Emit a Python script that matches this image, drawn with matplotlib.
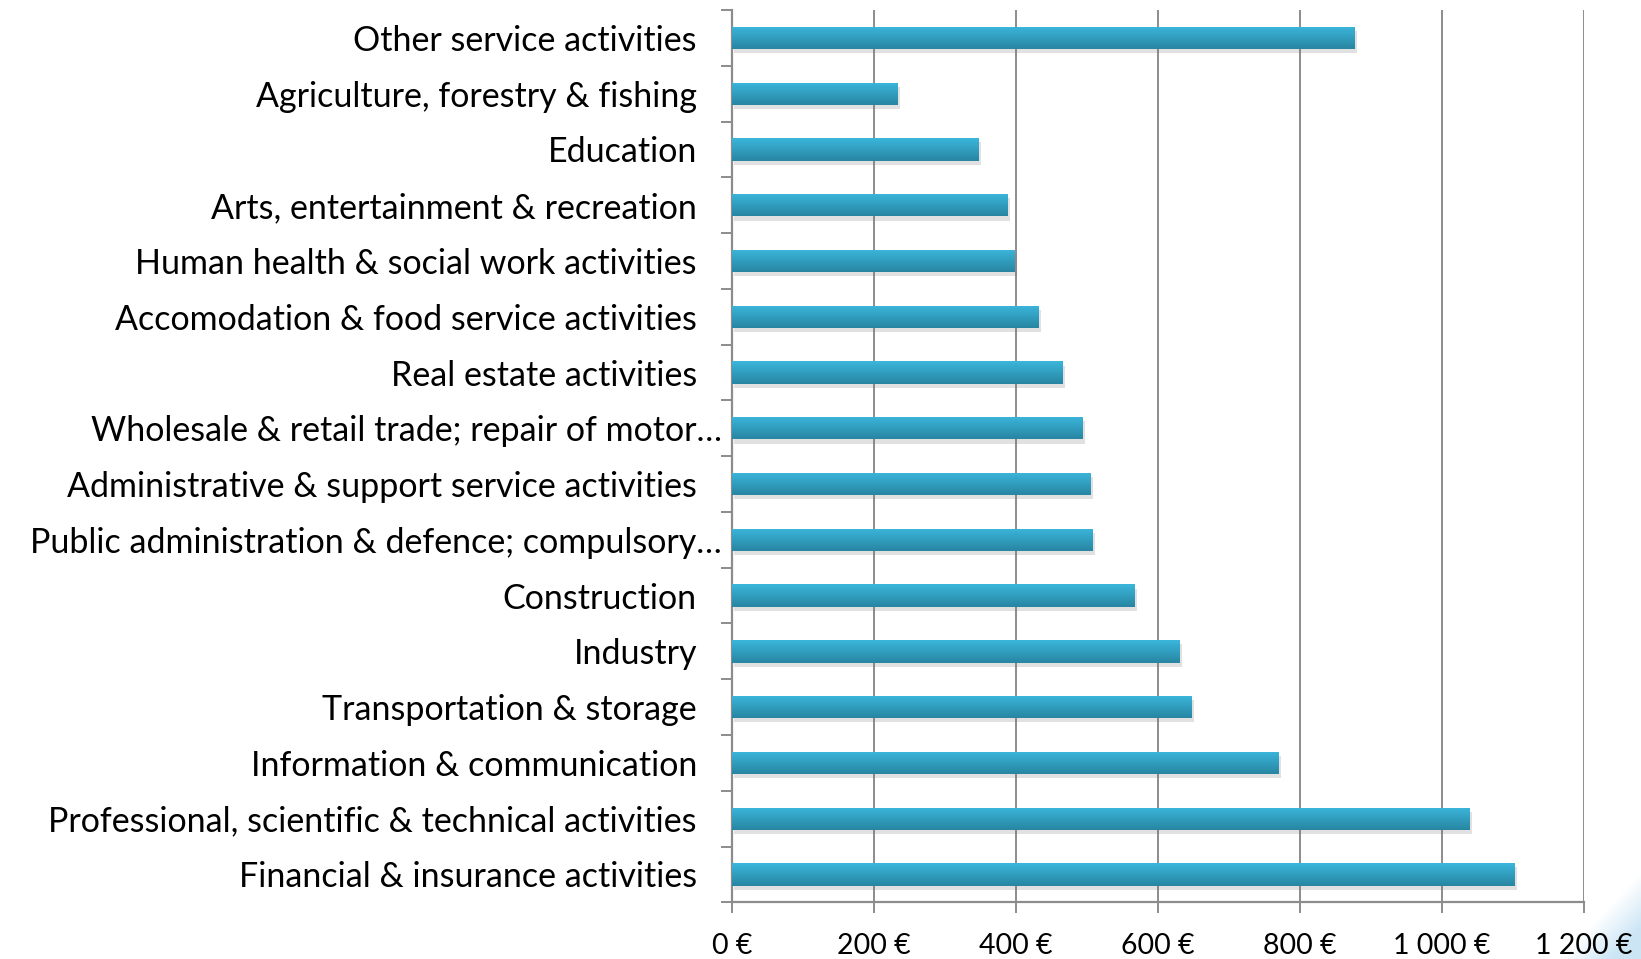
import numpy as np
import matplotlib
matplotlib.use('Agg')
import matplotlib.pyplot as plt
import matplotlib.patheffects as pe
from matplotlib import font_manager
from matplotlib.transforms import ScaledTranslation

### Data (top to bottom)
categories = [
    'Other service activities',
    'Agriculture, forestry & fishing',
    'Education',
    'Arts, entertainment & recreation',
    'Human health & social work activities',
    'Accomodation & food service activities',
    'Real estate activities',
    'Wholesale & retail trade; repair of motor…',
    'Administrative & support service activities',
    'Public administration & defence; compulsory…',
    'Construction',
    'Industry',
    'Transportation & storage',
    'Information & communication',
    'Professional, scientific & technical activities',
    'Financial & insurance activities',
]
values = [877, 233, 347, 388, 398, 432, 465, 493, 505, 508, 566, 630, 647, 769, 1038, 1101]
x_ticks = [0, 200, 400, 600, 800, 1000, 1200]
x_tick_labels = ['0 €', '200 €', '400 €', '600 €', '800 €', '1 000 €', '1 200 €']

installed = {f.name for f in font_manager.fontManager.ttflist}
label_font = 'Lato' if 'Lato' in installed else 'DejaVu Sans'
tick_font = 'Lato' if 'Lato' in installed else 'DejaVu Sans'

grid_col = '#8c8c8c'
top_col = np.array([0x3b, 0xb6, 0xdb]) / 255
bot_col = np.array([0x28, 0x86, 0xa2]) / 255

fig = plt.figure(figsize=(16.41, 9.59), dpi=100)

# faint light blue swoosh in the bottom-right corner (drawn behind everything)
gx, gy = np.meshgrid(np.linspace(0, 1, 80), np.linspace(0, 1, 80))
alpha = np.clip((gx - gy) * 1.6, 0, 1) * 0.7
corner_img = np.dstack([np.full_like(gx, 0.72), np.full_like(gx, 0.86), np.full_like(gx, 0.95), alpha])
cax = fig.add_axes([0.95, 0.0, 0.05, 0.09], zorder=0)
cax.imshow(corner_img, aspect='auto', origin='lower', interpolation='bilinear')
cax.axis('off')

ax = fig.add_axes([0.4459, 0.0591, 0.9653 - 0.4459, 0.98957 - 0.0591], zorder=1)
ax.set_facecolor('none')

y = np.arange(len(categories))
bars = ax.barh(y, values, height=0.4, color=bot_col, zorder=3,
               path_effects=[pe.SimplePatchShadow(offset=(2, -3), shadow_rgbFace='#777777', alpha=0.22),
                             pe.Normal()])

# vertical gradient on each bar
grad = np.linspace(0, 1, 64)[:, None, None]
grad_img = top_col * (1 - grad) + bot_col * grad
for b in bars:
    x0, y0 = b.get_x(), b.get_y()
    w, h = b.get_width(), b.get_height()
    im = ax.imshow(grad_img, extent=(x0, x0 + w, y0 + h, y0), aspect='auto',
                   zorder=4, interpolation='bilinear')
    im.set_clip_path(b)

ax.set_xlim(0, 1200)
ax.set_ylim(len(categories) - 0.5, -0.5)

ax.set_xticks(x_ticks)
ax.set_xticklabels(x_tick_labels, fontsize=20.5, family=tick_font)
ax.grid(axis='x', color=grid_col, linewidth=1.4, zorder=1)
ax.set_axisbelow(True)

ax.set_yticks(y)
ax.set_yticklabels(categories, fontsize=24.5, family=label_font)
ax.set_yticks(np.arange(len(categories) + 1) - 0.5, minor=True)
ax.tick_params(axis='y', which='major', length=0, pad=25)
ax.tick_params(axis='y', which='minor', length=8, width=1.4, color=grid_col, direction='out')
ax.tick_params(axis='x', length=8, width=1.4, color=grid_col, pad=14)

# truncated labels sit a bit closer to the axis
for lab in ax.get_yticklabels():
    if lab.get_text().endswith('…'):
        lab.set_transform(lab.get_transform() + ScaledTranslation(18 / 72, 0, fig.dpi_scale_trans))

for s in ['top', 'right']:
    ax.spines[s].set_visible(False)
for s in ['left', 'bottom']:
    ax.spines[s].set_color(grid_col)
    ax.spines[s].set_linewidth(1.6)

plt.savefig('out.png', dpi=100)
